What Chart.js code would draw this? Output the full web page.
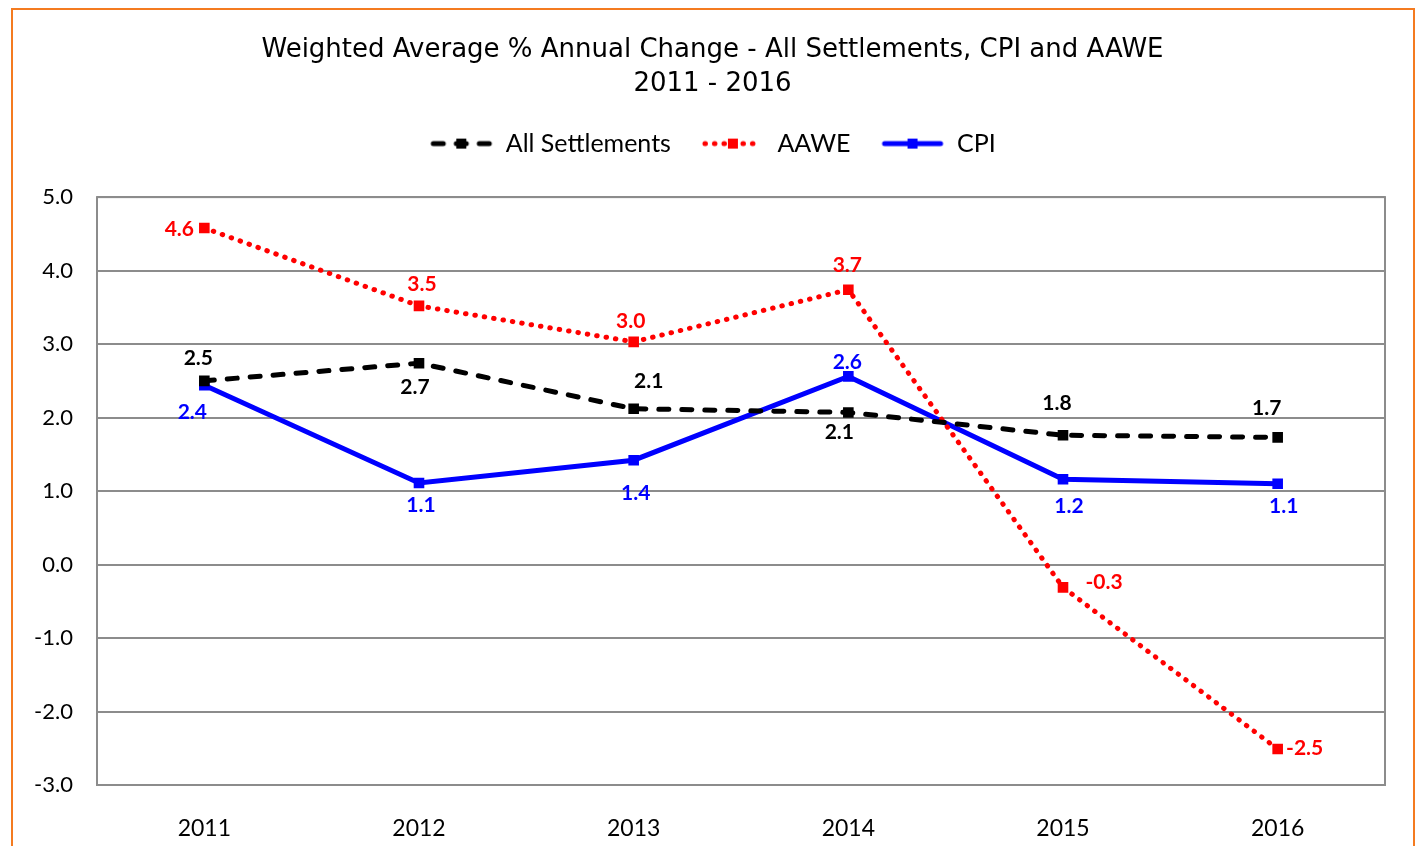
<!DOCTYPE html>
<html lang="en">
<head>
<meta charset="UTF-8">
<title>Weighted Average % Annual Change</title>
<style>
  body { margin: 0; background: #fff; overflow: hidden; }
  #wrap { position: relative; width: 1425px; height: 846px; }
  #frame { position: absolute; left: 11px; top: 8px; width: 1404px; height: 900px; border: 2px solid #f47b20; box-sizing: border-box; }
  #chart { position: absolute; left: 0; top: 0; }
</style>
</head>
<body>
<div id="wrap">
  <div id="frame"></div>
  <canvas id="chart" width="1425" height="846"></canvas>
</div>
<script src="https://cdn.jsdelivr.net/npm/chart.js"></script>
<script>
// values
const years = ['2011', '2012', '2013', '2014', '2015', '2016'];
const allSettlements = [2.50, 2.74, 2.12, 2.07, 1.76, 1.73];
const aawe = [4.58, 3.52, 3.03, 3.74, -0.31, -2.51];
const cpi = [2.44, 1.11, 1.42, 2.56, 1.16, 1.10];

// label placement: shift of each value label from its point, in px
const settleLabelShift = [[-6, -23], [-4, 24], [15, -28], [-9, 20], [-6, -32], [-11, -29]];
const aaweLabelShift = [[-25, 1], [3, -22], [-3, -21], [-1, -24], [41, -5], [27, -1]];
const cpiLabelShift = [[-12, 27], [2, 22], [2, 33], [-1, -14], [6, 27], [6, 23]];

const labelFont = 'bold 21px Lato';
const gridGrey = '#8c8c8c';

// legend samples: a short line with the square marker in the middle
function legendSample(color, dash) {
    const c = document.createElement('canvas');
    c.width = 64;
    c.height = 14;
    const g = c.getContext('2d');
    g.strokeStyle = color;
    g.lineWidth = 5;
    g.lineCap = 'round';
    g.setLineDash(dash);
    g.beginPath();
    g.moveTo(4, 7);
    g.lineTo(60, 7);
    g.stroke();
    g.fillStyle = color;
    g.fillRect(27, 2, 10, 10);
    return c;
}
const legendImgs = [
    legendSample('#000000', [10, 13]),
    legendSample('#ff0000', [0.5, 9]),
    legendSample('#0000ff', [])
];

// leave a gap between the legend and the plot
const legendGap = {
    id: 'legendGap',
    afterInit(chart) {
        const fit = chart.legend.fit;
        chart.legend.fit = function () {
            fit.call(this);
            this.height += 31;
        };
    }
};

// frame round the plot area
const plotFrame = {
    id: 'plotFrame',
    beforeDatasetsDraw(chart) {
        const a = chart.chartArea;
        const ctx = chart.ctx;
        ctx.save();
        ctx.strokeStyle = gridGrey;
        ctx.lineWidth = 2;
        ctx.strokeRect(a.left, a.top, a.right - a.left, a.bottom - a.top);
        ctx.restore();
    }
};

// value labels next to the points
const valueLabels = {
    id: 'valueLabels',
    afterDatasetsDraw(chart) {
        const ctx = chart.ctx;
        ctx.save();
        ctx.font = labelFont;
        ctx.textAlign = 'center';
        ctx.textBaseline = 'middle';
        chart.data.datasets.forEach((ds, i) => {
            const meta = chart.getDatasetMeta(i);
            meta.data.forEach((pt, j) => {
                const shift = ds.labelShift[j];
                ctx.fillStyle = ds.borderColor;
                ctx.fillText(ds.data[j].toFixed(1), pt.x + shift[0], pt.y + shift[1]);
            });
        });
        ctx.restore();
    }
};

const ctx = document.getElementById('chart').getContext('2d');
new Chart(ctx, {
    type: 'line',
    data: {
        labels: years,
        datasets: [
            {
                label: 'All Settlements',
                data: allSettlements,
                labelShift: settleLabelShift,
                borderColor: '#000000',
                backgroundColor: '#000000',
                borderWidth: 5,
                borderDash: [10, 13],
                borderCapStyle: 'round',
                pointStyle: 'rect',
                pointRadius: 7.5,
                pointBorderWidth: 0,
                tension: 0
            },
            {
                label: 'AAWE',
                data: aawe,
                labelShift: aaweLabelShift,
                borderColor: '#ff0000',
                backgroundColor: '#ff0000',
                borderWidth: 5,
                borderDash: [0.5, 9],
                borderCapStyle: 'round',
                pointStyle: 'rect',
                pointRadius: 7.5,
                pointBorderWidth: 0,
                tension: 0
            },
            {
                label: 'CPI',
                data: cpi,
                labelShift: cpiLabelShift,
                borderColor: '#0000ff',
                backgroundColor: '#0000ff',
                borderWidth: 5,
                pointStyle: 'rect',
                pointRadius: 7.5,
                pointBorderWidth: 0,
                tension: 0
            }
        ]
    },
    options: {
        responsive: false,
        animation: false,
        layout: { padding: 0 },
        plugins: {
            title: {
                display: true,
                text: ['Weighted Average % Annual Change - All Settlements, CPI and AAWE', '2011 - 2016'],
                color: '#000000',
                font: { family: 'DejaVu Sans', size: 26, weight: 'normal', lineHeight: 1.31 },
                padding: { top: 33, bottom: 0 }
            },
            legend: {
                display: true,
                position: 'top',
                labels: {
                    color: '#000000',
                    font: { family: 'Lato', size: 25 },
                    usePointStyle: true,
                    pointStyleWidth: 64,
                    padding: 30,
                    generateLabels(chart) {
                        const items = Chart.defaults.plugins.legend.labels.generateLabels(chart);
                        items.forEach((it, i) => { it.pointStyle = legendImgs[i]; });
                        return items;
                    }
                }
            },
            tooltip: { enabled: false }
        },
        scales: {
            x: {
                offset: true,
                grid: { display: false },
                border: { display: false },
                ticks: {
                    color: '#000000',
                    font: { family: 'Lato', size: 23 },
                    padding: 22
                },
                afterFit(scale) { scale.height = 61; }
            },
            y: {
                min: -3,
                max: 5,
                grid: { color: gridGrey, lineWidth: 2, drawTicks: false },
                border: { display: false },
                ticks: {
                    stepSize: 1,
                    color: '#000000',
                    font: { family: 'Lato', size: 22 },
                    padding: 24,
                    callback: v => v.toFixed(1)
                },
                afterFit(scale) { scale.width = 97; }
            },
            // empty strip on the right so the title and legend centre on the whole page
            yRight: {
                position: 'right',
                min: -3,
                max: 5,
                grid: { display: false },
                border: { display: false },
                ticks: { display: false },
                afterFit(scale) { scale.width = 40; }
            }
        }
    },
    plugins: [legendGap, plotFrame, valueLabels]
});
</script>
</body>
</html>
